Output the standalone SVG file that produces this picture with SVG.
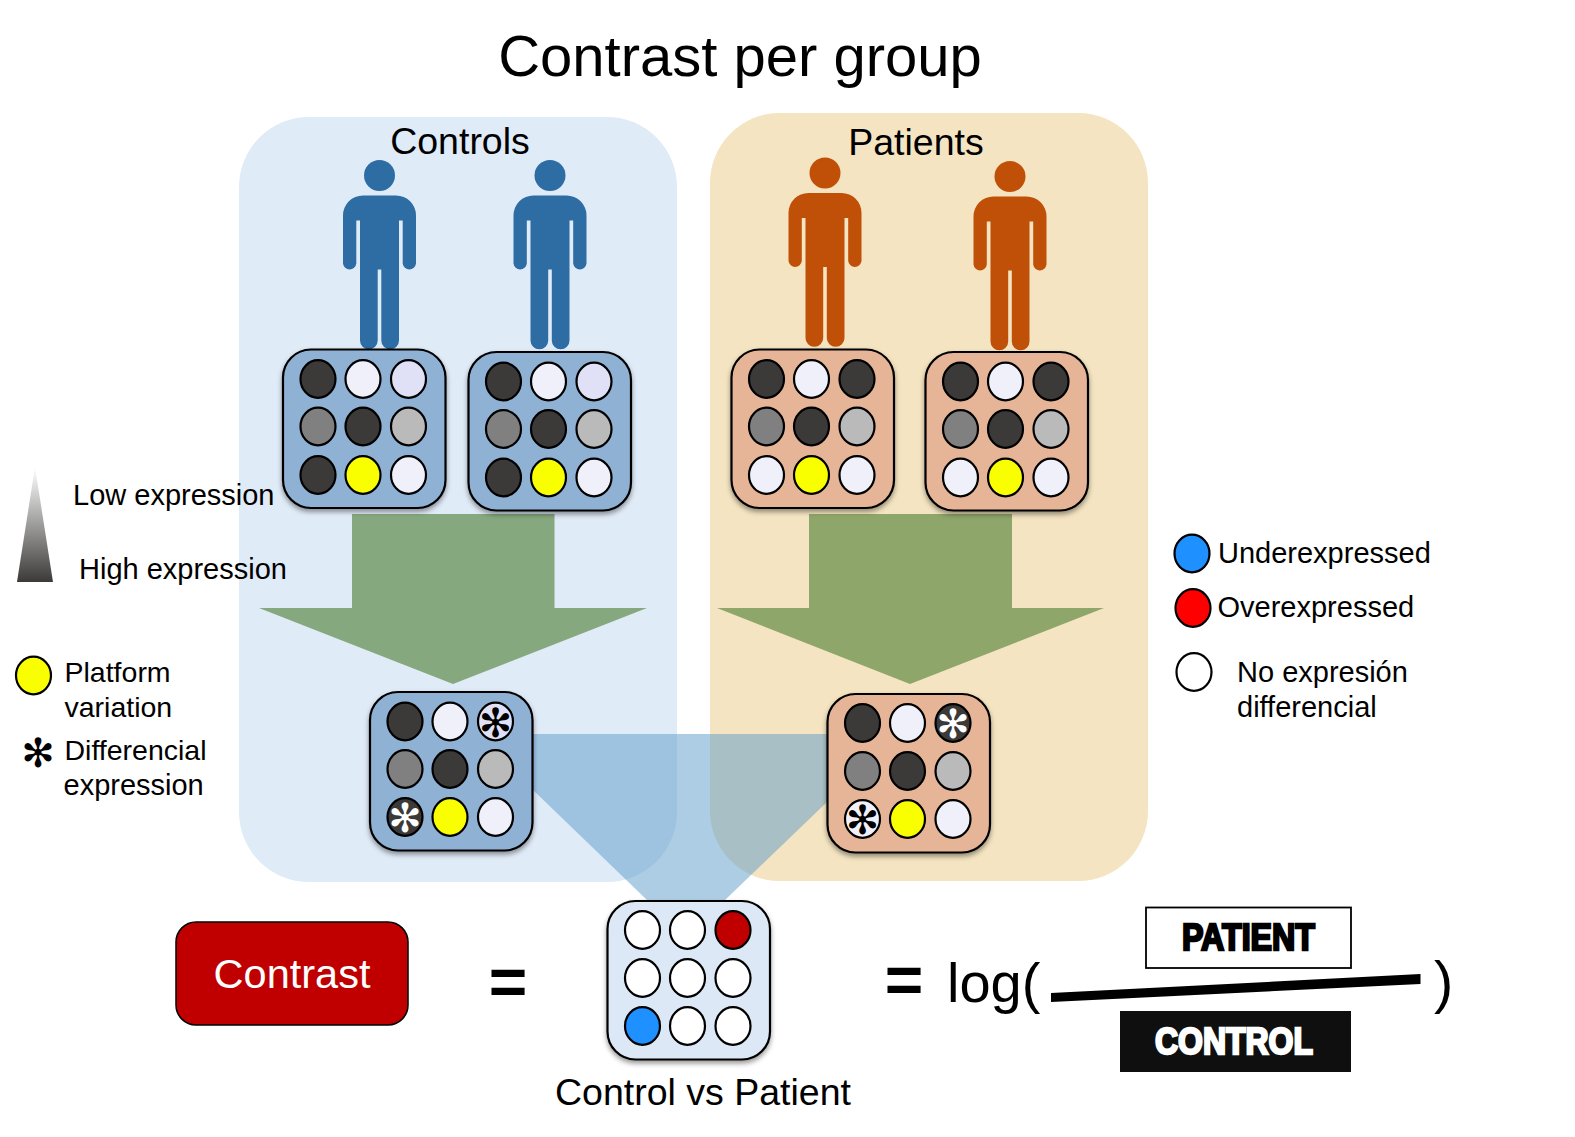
<svg xmlns="http://www.w3.org/2000/svg" width="1575" height="1137" viewBox="0 0 1575 1137">
<style>
text{font-family:"Liberation Sans",Arial,sans-serif;fill:#000}
.t29{font-size:29px}.t37{font-size:37.500px}.t28{font-size:28.500px}
.plate{stroke:#000;stroke-width:2.200;filter:url(#sh)}
.pb{fill:#8FB1D3}.po{fill:#E6B598}.pl{fill:#DCE8F5}
.c{stroke:#000;stroke-width:2.200}
.d{fill:#3B3A38}.l{fill:#F0F0FA}.v{fill:#E0E0F6}.g{fill:#808080}.s{fill:#BABABA}.y{fill:#FAFF00}.r{fill:#C00000}.u{fill:#1E90FF}.w{fill:#fff}
.star{font-family:"DejaVu Sans",sans-serif;font-size:40px;text-anchor:middle}
.pc{fill:#2E6CA4}.pr{fill:#C05008}
.arrow{fill:#4F7F33;opacity:.62}
.heavy{font-weight:bold;font-size:37px;stroke-width:2.400}
</style>
<defs>
<filter id="sh" x="-10%" y="-10%" width="120%" height="125%"><feDropShadow dx="0" dy="3" stdDeviation="2.500" flood-color="#000" flood-opacity=".4"/></filter>
<linearGradient id="grad" x1="0" y1="0" x2="0" y2="1"><stop offset="0" stop-color="#fff"/><stop offset="1" stop-color="#3B3A38"/></linearGradient>
<ellipse id="e" rx="17.500" ry="18.800"/>
<rect id="box" width="162.500" height="158.500" rx="28"/>
<g id="person"><circle cx="0" cy="0" r="15.500"/><path d="M-16.500,20H16.500A20,20 0 0 1 36.500,40V88A6.700,6.700 0 0 1 23.200,88V45H19.500V165A8.850,8.850 0 0 1 1.800,165V94H-1.800V165A8.850,8.850 0 0 1 -19.500,165V45H-23.200V88A6.700,6.700 0 0 1 -36.500,88V40A20,20 0 0 1 -16.500,20Z"/></g>
<g id="mid"><use href="#e" x="35" y="77" class="c g"/><use href="#e" x="80" y="77" class="c d"/><use href="#e" x="125.500" y="77" class="c s"/></g>
</defs>
<rect width="1575" height="1137" fill="#fff"/>
<g id="panels">
<rect id="panel-controls" x="239" y="117" width="438" height="765" rx="70" fill="#E0EBF8"/>
<rect id="panel-patients" x="710" y="113" width="438" height="768" rx="70" fill="#F4E4C1"/>
</g>
<text x="740" y="75.500" font-size="58" text-anchor="middle">Contrast per group</text>
<text x="460" y="154" class="t37" text-anchor="middle">Controls</text>
<text x="916" y="155" class="t37" text-anchor="middle">Patients</text>
<g id="connectors">
<polygon points="533,734 827,734 827,802 725,900 647,900 533,790" fill="#5B9BC9" opacity=".5"/>
<polygon class="arrow" points="352,514 554.500,514 554.500,608 647,608 453,684 259,608 352,608"/>
<polygon class="arrow" points="809,514 1012,514 1012,608 1104,608 910,684 717,608 809,608"/>
</g>
<g id="person-c1" class="pc"><use href="#person" x="379.500" y="175.500"/></g>
<g id="person-c2" class="pc"><use href="#person" x="550" y="175.500"/></g>
<g id="person-p1" class="pr"><use href="#person" x="825" y="173"/></g>
<g id="person-p2" class="pr"><use href="#person" x="1010" y="176.500"/></g>
<g id="plate-c1" transform="translate(283,349.500)"><use href="#box" class="plate pb"/>
<use href="#e" x="35" y="29.500" class="c d"/><use href="#e" x="80" y="29.500" class="c l"/><use href="#e" x="125.500" y="29.500" class="c v"/><use href="#mid"/>
<use href="#e" x="35" y="125.500" class="c d"/><use href="#e" x="80" y="125.500" class="c y"/><use href="#e" x="125.500" y="125.500" class="c l"/></g>
<g id="plate-c2" transform="translate(468.500,352)"><use href="#box" class="plate pb"/>
<use href="#e" x="35" y="29.500" class="c d"/><use href="#e" x="80" y="29.500" class="c l"/><use href="#e" x="125.500" y="29.500" class="c v"/><use href="#mid"/>
<use href="#e" x="35" y="125.500" class="c d"/><use href="#e" x="80" y="125.500" class="c y"/><use href="#e" x="125.500" y="125.500" class="c l"/></g>
<g id="plate-p1" transform="translate(731.500,349.500)"><use href="#box" class="plate po"/>
<use href="#e" x="35" y="29.500" class="c d"/><use href="#e" x="80" y="29.500" class="c l"/><use href="#e" x="125.500" y="29.500" class="c d"/><use href="#mid"/>
<use href="#e" x="35" y="125.500" class="c l"/><use href="#e" x="80" y="125.500" class="c y"/><use href="#e" x="125.500" y="125.500" class="c l"/></g>
<g id="plate-p2" transform="translate(925.500,352)"><use href="#box" class="plate po"/>
<use href="#e" x="35" y="29.500" class="c d"/><use href="#e" x="80" y="29.500" class="c l"/><use href="#e" x="125.500" y="29.500" class="c d"/><use href="#mid"/>
<use href="#e" x="35" y="125.500" class="c l"/><use href="#e" x="80" y="125.500" class="c y"/><use href="#e" x="125.500" y="125.500" class="c l"/></g>
<g id="plate-c3" transform="translate(370,692)"><use href="#box" class="plate pb"/>
<use href="#e" x="35" y="29.500" class="c d"/><use href="#e" x="80" y="29.500" class="c l"/><use href="#e" x="125.500" y="29.500" class="c v"/><text class="star" x="125.500" y="44.500">✻</text><use href="#mid"/>
<use href="#e" x="35" y="125" class="c d"/><text class="star w" x="35" y="140">✻</text><use href="#e" x="80" y="125" class="c y"/><use href="#e" x="125.500" y="125" class="c l"/></g>
<g id="plate-p3" transform="translate(827.500,694)"><use href="#box" class="plate po"/>
<use href="#e" x="35" y="29" class="c d"/><use href="#e" x="80" y="29" class="c l"/><use href="#e" x="125.500" y="29" class="c d"/><text class="star w" x="125.500" y="44">✻</text><use href="#mid"/>
<use href="#e" x="35" y="125" class="c l"/><text class="star" x="35" y="140">✻</text><use href="#e" x="80" y="125" class="c y"/><use href="#e" x="125.500" y="125" class="c l"/></g>
<g id="plate-result" transform="translate(607.500,901)"><use href="#box" class="plate pl"/>
<use href="#e" x="35" y="29" class="c w"/><use href="#e" x="80" y="29" class="c w"/><use href="#e" x="125.500" y="29" class="c r"/>
<use href="#e" x="35" y="77" class="c w"/><use href="#e" x="80" y="77" class="c w"/><use href="#e" x="125.500" y="77" class="c w"/>
<use href="#e" x="35" y="125" class="c u"/><use href="#e" x="80" y="125" class="c w"/><use href="#e" x="125.500" y="125" class="c w"/></g>
<g id="legend-left">
<polygon points="35,467 53,582 17,582" fill="url(#grad)"/>
<text x="73" y="505" class="t29">Low expression</text>
<text x="79" y="579" class="t29">High expression</text>
<use href="#e" x="33.500" y="675.500" class="c y"/>
<text x="64.500" y="682" class="t28">Platform</text>
<text x="64.500" y="717" class="t28">variation</text>
<text class="star" x="38" y="767">✻</text>
<text x="64.500" y="760" class="t28">Differencial</text>
<text x="63.500" y="795" class="t29">expression</text>
</g>
<g id="legend-right">
<use href="#e" x="1192" y="553.500" class="c u"/>
<text x="1218" y="563" class="t29">Underexpressed</text>
<use href="#e" x="1193" y="608" class="c" fill="#F00"/>
<text x="1217.500" y="617" class="t29">Overexpressed</text>
<use href="#e" x="1194" y="672" class="c w"/>
<text x="1237" y="681.500" class="t29">No expresión</text>
<text x="1237" y="716.500" class="t29">differencial</text>
</g>
<g id="contrast-box"><rect x="176" y="922" width="232" height="103" rx="20" fill="#C00000" stroke="#000" stroke-width="1.500"/>
<text x="292" y="988" font-size="41.500" text-anchor="middle" style="fill:#fff">Contrast</text></g>
<g id="formula">
<text x="508" y="1005" font-size="66" font-weight="bold" text-anchor="middle">=</text>
<text x="904" y="1003" font-size="66" font-weight="bold" text-anchor="middle">=</text>
<text x="947" y="1002" font-size="56">log(</text>
<text x="1434" y="1002" font-size="58">)</text>
<polygon points="1051,993 1420.500,974 1420.500,984 1051,1002"/>
<rect id="patient-box" x="1146" y="907.500" width="205" height="60.500" fill="#fff" stroke="#000" stroke-width="1.800"/>
<text x="1182" y="950" class="heavy" stroke="#000" textLength="133" lengthAdjust="spacingAndGlyphs">PATIENT</text>
<rect id="control-box" x="1120" y="1011" width="231" height="61" fill="#0F0F0F"/>
<text x="1155" y="1054" class="heavy" stroke="#fff" textLength="158" lengthAdjust="spacingAndGlyphs" style="fill:#fff">CONTROL</text>
</g>
<text x="703" y="1105" class="t37" text-anchor="middle">Control vs Patient</text>
</svg>
